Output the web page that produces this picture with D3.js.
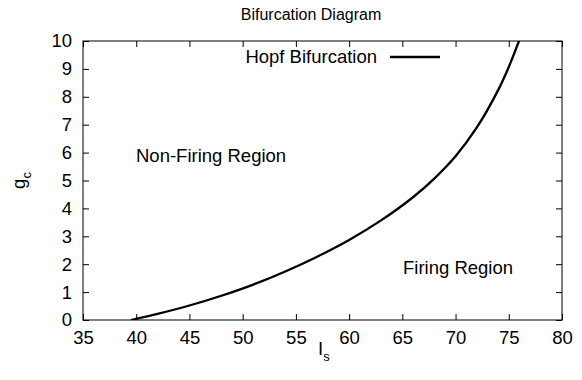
<!DOCTYPE html>
<html>
<head>
<meta charset="utf-8">
<script src="https://cdn.jsdelivr.net/npm/d3@7"></script>
<style>
  html, body { margin: 0; padding: 0; background: #fff; }
  svg text { font-family: "Liberation Sans", Arial, sans-serif; fill: #000; }
</style>
</head>
<body>
<svg id="chart" width="582" height="380"></svg>
<script>
// Hopf bifurcation boundary: coupling g_c versus input current I_s
const currentIs = [39.5, 42, 45, 48, 51, 54, 57, 60, 63, 66, 68, 70, 72, 74, 75, 76];
const couplingGc = [0, 0.22, 0.52, 0.87, 1.27, 1.74, 2.27, 2.87, 3.57, 4.40, 5.07, 5.87, 6.90, 8.24, 9.07, 10.04];
const xTicks = [35, 40, 45, 50, 55, 60, 65, 70, 75, 80];
const yTicks = [0, 1, 2, 3, 4, 5, 6, 7, 8, 9, 10];

const svg = d3.select("#chart");
const margin = { left: 83, right: 20, top: 41, bottom: 60 };
const W = 582, H = 380;
const x = d3.scaleLinear().domain([35, 80]).range([margin.left, W - margin.right]);
const y = d3.scaleLinear().domain([0, 10]).range([H - margin.bottom, margin.top]);

const tickLen = 6;
const fontSize = 18.5;

// inward ticks on all four sides
svg.append("g").attr("transform", `translate(0,${y(0)})`)
  .call(d3.axisBottom(x).tickValues(xTicks).tickSize(-tickLen).tickPadding(tickLen + 5).tickFormat(d3.format("d")))
  .call(g => g.select(".domain").remove())
  .call(g => g.selectAll("text").attr("font-size", fontSize).attr("font-family", null));
svg.append("g").attr("transform", `translate(0,${y(10)})`)
  .call(d3.axisTop(x).tickValues(xTicks).tickSize(-tickLen).tickFormat(""))
  .call(g => g.select(".domain").remove());
svg.append("g").attr("transform", `translate(${x(35)},0)`)
  .call(d3.axisLeft(y).tickValues(yTicks).tickSize(-tickLen).tickPadding(tickLen + 5).tickFormat(d3.format("d")))
  .call(g => g.select(".domain").remove())
  .call(g => g.selectAll("text").attr("font-size", fontSize).attr("font-family", null));
svg.append("g").attr("transform", `translate(${x(80)},0)`)
  .call(d3.axisRight(y).tickValues(yTicks).tickSize(-tickLen).tickFormat(""))
  .call(g => g.select(".domain").remove());

svg.selectAll(".tick line").attr("stroke", "#000");

// plot frame
svg.append("rect")
  .attr("x", x(35)).attr("y", y(10))
  .attr("width", x(80) - x(35)).attr("height", y(0) - y(10))
  .attr("fill", "none").attr("stroke", "#000").attr("stroke-width", 1);

// clip for the curve
svg.append("clipPath").attr("id", "plot-clip")
  .append("rect")
  .attr("x", x(35)).attr("y", y(10))
  .attr("width", x(80) - x(35)).attr("height", y(0) - y(10));

const pts = currentIs.map((v, i) => [v, couplingGc[i]]);
const line = d3.line().x(d => x(d[0])).y(d => y(d[1])).curve(d3.curveCatmullRom.alpha(0.5));
svg.append("path")
  .datum(pts)
  .attr("clip-path", "url(#plot-clip)")
  .attr("d", line)
  .attr("fill", "none").attr("stroke", "#000").attr("stroke-width", 2.3);

// title
svg.append("text").attr("x", 311).attr("y", 20)
  .attr("text-anchor", "middle").attr("font-size", 16).text("Bifurcation Diagram");

// legend
svg.append("text").attr("x", 377).attr("y", 63)
  .attr("text-anchor", "end").attr("font-size", fontSize).text("Hopf Bifurcation");
svg.append("line").attr("x1", 390).attr("x2", 440).attr("y1", 57).attr("y2", 57)
  .attr("stroke", "#000").attr("stroke-width", 2.3);

// region annotations
svg.append("text").attr("x", 136).attr("y", 162)
  .attr("font-size", fontSize).text("Non-Firing Region");
svg.append("text").attr("x", 403).attr("y", 274)
  .attr("font-size", fontSize).text("Firing Region");

// axis titles with subscripts
const xl = svg.append("text").attr("x", 318).attr("y", 355).attr("font-size", fontSize);
xl.append("tspan").text("I");
xl.append("tspan").attr("dy", 6).attr("font-size", 13).text("s");

const yl = svg.append("text")
  .attr("transform", `translate(25,${(y(0) + y(10)) / 2}) rotate(-90)`)
  .attr("text-anchor", "middle").attr("font-size", fontSize);
yl.append("tspan").text("g");
yl.append("tspan").attr("dy", 6).attr("font-size", 13).text("c");
</script>
</body>
</html>
